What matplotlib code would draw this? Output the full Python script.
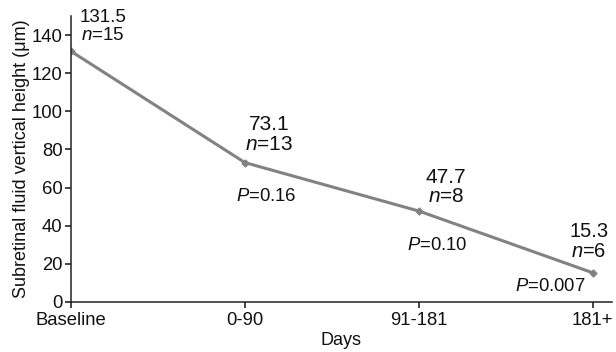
import matplotlib
matplotlib.use("Agg")
import matplotlib.pyplot as plt

plt.rcParams["font.family"] = ["Liberation Sans", "DejaVu Sans"]
plt.rcParams["mathtext.fontset"] = "custom"
plt.rcParams["mathtext.rm"] = "Liberation Sans"
plt.rcParams["mathtext.it"] = "Liberation Sans:italic"

# data
categories = ["Baseline", "0-90", "91-181", "181+"]
heights = [131.5, 73.1, 47.7, 15.3]
n_counts = [15, 13, 8, 6]
p_values = [None, "0.16", "0.10", "0.007"]

# label offsets in pixels (value label, P label)
value_offsets = [(32, 25), (24, 28), (27, 24), (-4, 31)]
value_sizes = [13.5, 15, 15, 14.5]
p_offsets = [None, (21, -34), (18, -34), (-43, -14)]

x = list(range(len(categories)))
gray = "#828282"

fig = plt.figure(figsize=(6.16, 3.52), dpi=100)
ax = fig.add_axes([71 / 616, 50 / 352, 541 / 616, 286 / 352])

ax.plot(x, heights, color=gray, linewidth=2.2, marker="D", markersize=3.5,
        markeredgecolor=gray, markerfacecolor=gray)

for i in x:
    dx, dy = value_offsets[i]
    ax.annotate(f"{heights[i]}\n$n$={n_counts[i]}", (x[i], heights[i]),
                xytext=(dx, dy), textcoords="offset pixels",
                ha="center", va="center", fontsize=value_sizes[i],
                linespacing=1.05, color="#111111")
    if p_values[i] is not None:
        dx, dy = p_offsets[i]
        ax.annotate(f"$P$={p_values[i]}", (x[i], heights[i]),
                    xytext=(dx, dy), textcoords="offset pixels",
                    ha="center", va="center", fontsize=13.3, color="#111111")

ax.set_xlim(0, 3.11)
ax.set_ylim(0, 150)
ax.set_yticks(range(0, 141, 20))
ax.set_xticks(x)
ax.set_xticklabels(categories)
ax.tick_params(labelsize=13.3, length=4.5, width=1.1, pad=1.5, colors="#111111")
ax.tick_params(axis="x", pad=3)

for side in ["top", "right"]:
    ax.spines[side].set_visible(False)
for side in ["left", "bottom"]:
    ax.spines[side].set_linewidth(1.1)
    ax.spines[side].set_color("#222222")

ax.set_xlabel("Days", fontsize=13, labelpad=2, color="#111111")
ax.set_ylabel("Subretinal fluid vertical height (\u03bcm)", fontsize=13,
              labelpad=1, color="#111111")

fig.savefig("out.png", dpi=100)
